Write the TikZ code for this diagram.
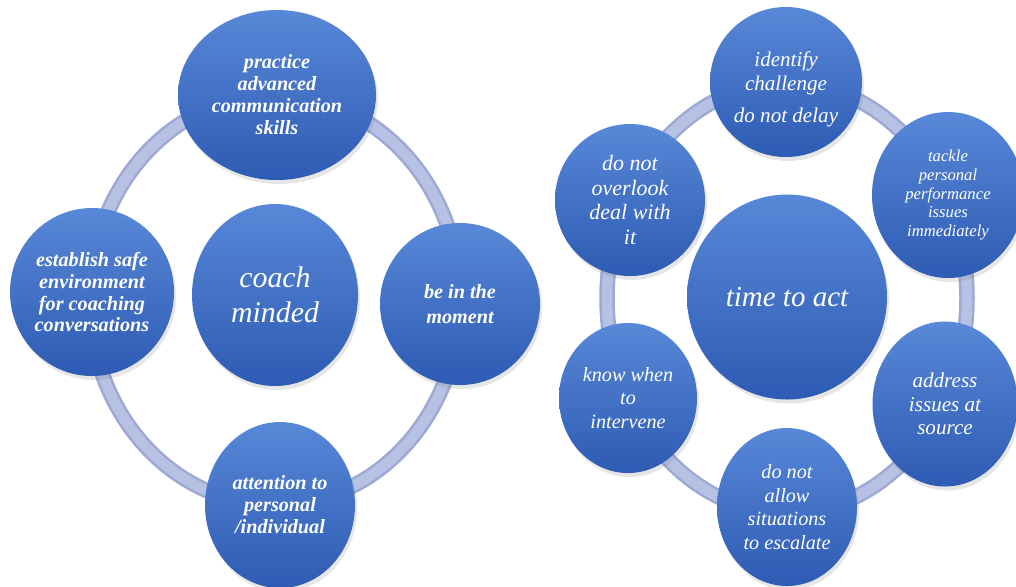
\documentclass[tikz,border=0pt]{standalone}
\usepackage{fontspec}
\setmainfont{Liberation Serif}
\usetikzlibrary{shapes.geometric, shadows}

\definecolor{balltop}{HTML}{5888D8}
\definecolor{ballbot}{HTML}{2E5BB3}
\definecolor{ringdark}{HTML}{9CA9D5}
\definecolor{ringlight}{HTML}{B6C1E3}

\tikzset{
  ball/.style={ellipse, inner sep=0pt, top color=balltop, bottom color=ballbot,
    text=white, align=center,
    drop shadow={opacity=0.2, shadow xshift=0.4mm, shadow yshift=-0.8mm}},
  boldtext/.style={font=\bfseries\itshape\fontsize{11.5}{12.5}\selectfont},
  plaintext/.style={font=\itshape\fontsize{12}{13.5}\selectfont},
  bigtext/.style={font=\itshape\fontsize{17}{20}\selectfont},
}

\newcommand{\tube}[3]{%
  \draw[ringdark, line width=3.1mm] (#1) ellipse [x radius=#2, y radius=#3];
  \draw[ringlight, line width=2.1mm] (#1) ellipse [x radius=#2, y radius=#3];}

\begin{document}
\begin{tikzpicture}[x=0.2mm, y=-0.2mm]
  \useasboundingbox (0,0) rectangle (1016,586);

  % left cycle
  \tube{275,300}{185}{205}

  \node[ball, boldtext, minimum width=39.6mm, minimum height=34mm] (practice) at (277,95) {practice\\advanced\\communication\\skills};
  \node[ball, boldtext, minimum width=32.8mm, minimum height=33.6mm] (safe) at (92,292) {establish safe\\environment\\for coaching\\conversations};
  \node[ball, boldtext, font=\bfseries\itshape\fontsize{11.5}{14}\selectfont, minimum width=32mm, minimum height=32.4mm] (moment) at (460,304) {be in the\\moment};
  \node[ball, boldtext, minimum width=30mm, minimum height=33.2mm] (personal) at (280,505) {attention to\\personal\\/individual};
  \node[ball, bigtext, minimum width=33.2mm, minimum height=36.4mm] (coach) at (275,295) {coach\\minded};

  % right cycle
  \tube{787,298}{180}{215}

  % strut on the first line pushes the block a little lower
  \node[ball, plaintext, minimum width=30.4mm, minimum height=30mm] (identify) at (786,82) {\rule{0pt}{17pt}identify\\challenge\\[5pt]do not delay};
  \node[ball, font=\itshape\fontsize{9.5}{10.8}\selectfont, minimum width=30.4mm, minimum height=33.2mm] (tackle) at (948,195) {tackle\\personal\\performance\\issues\\immediately};
  \node[ball, plaintext, minimum width=29mm, minimum height=33mm] (source) at (945,404) {address\\issues at\\source};
  \node[ball, font=\itshape\fontsize{11.5}{13.5}\selectfont, minimum width=28mm, minimum height=31.6mm] (escalate) at (787,507) {do not\\allow\\situations\\to escalate};
  \node[ball, font=\itshape\fontsize{11.5}{13.5}\selectfont, minimum width=27.6mm, minimum height=30mm] (intervene) at (628,398) {know when\\to\\intervene};
  \node[ball, font=\itshape\fontsize{12.5}{14}\selectfont, minimum width=30mm, minimum height=30.4mm] (overlook) at (630,200) {do not\\overlook\\deal with\\it};
  \node[ball, font=\itshape\fontsize{16.5}{20}\selectfont, minimum width=40mm, minimum height=41mm] (act) at (787,297) {time to act};

\end{tikzpicture}
\end{document}
